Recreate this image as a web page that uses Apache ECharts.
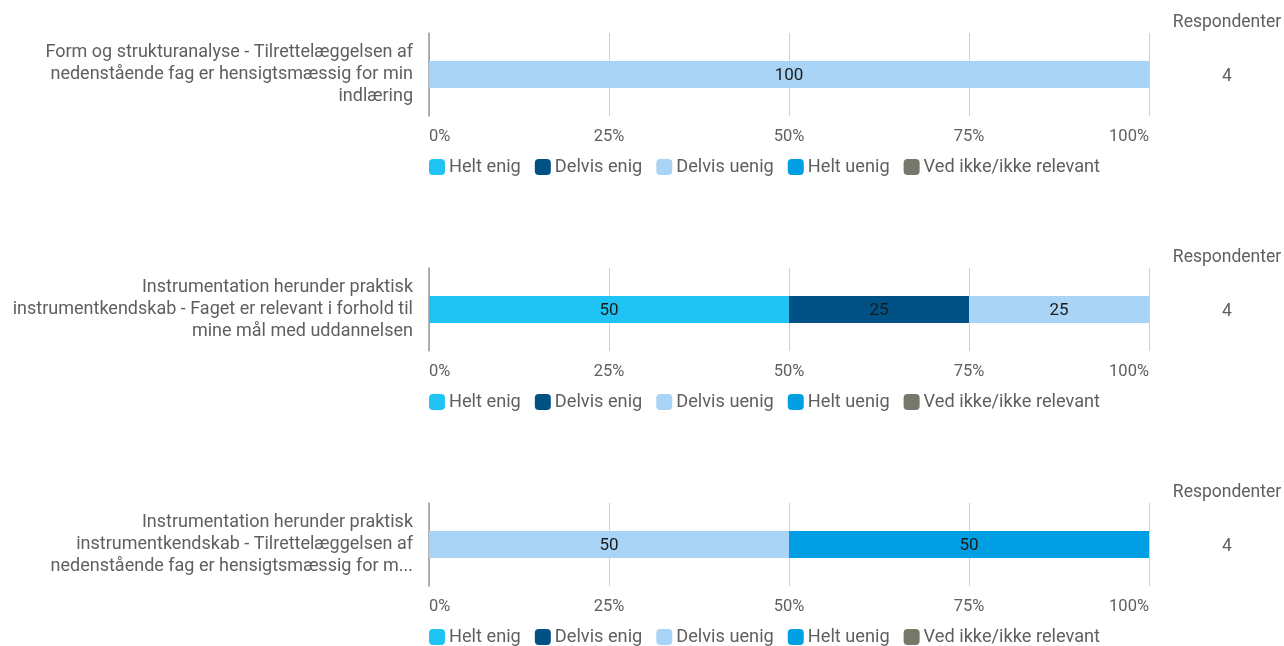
<!DOCTYPE html>
<html>
<head>
<meta charset="utf-8">
<script src="https://cdn.jsdelivr.net/npm/echarts@6/dist/echarts.min.js"></script>
<style>
  html, body { margin: 0; padding: 0; background: #fff; }
  #chart { width: 1284px; height: 646px; }
</style>
</head>
<body>
<div id="chart"></div>
<script>
  // spørgsmål (kategorier)
  const questions = [
    'Form og strukturanalyse - Tilrettelæggelsen af\nnedenstående fag er hensigtsmæssig for min\nindlæring',
    'Instrumentation herunder praktisk\ninstrumentkendskab - Faget er relevant i forhold til\nmine mål med uddannelsen',
    'Instrumentation herunder praktisk\ninstrumentkendskab - Tilrettelæggelsen af\nnedenstående fag er hensigtsmæssig for m...'
  ]
  const answers = ['Helt enig', 'Delvis enig', 'Delvis uenig', 'Helt uenig', 'Ved ikke/ikke relevant']
  const colors = ['#1fc4f4', '#005185', '#a9d4f5', '#009fe3', '#77776a']
  // procent pr. svar, en række pr. spørgsmål
  const helEnig = [0, 50, 0]
  const delvisEnig = [0, 25, 0]
  const delvisUenig = [100, 25, 50]
  const heltUenig = [0, 0, 50]
  const vedIkke = [0, 0, 0]
  const respondenter = [4, 4, 4]
  const xTicks = [0, 25, 50, 75, 100]

  const values = [helEnig, delvisEnig, delvisUenig, heltUenig, vedIkke]
  const chart = echarts.init(document.getElementById('chart'))

  const tops = [33, 268, 503]
  const grids = [], xAxes = [], yAxes = [], legends = [], series = [], graphics = []
  const textColor = '#5f5f5f'

  tops.forEach((top, i) => {
    grids.push({ left: 429, right: 135, top: top, height: 83 })
    xAxes.push({
      gridIndex: i,
      type: 'value',
      min: xTicks[0],
      max: xTicks[xTicks.length - 1],
      interval: 25,
      axisLine: { show: false },
      axisTick: { show: false },
      splitLine: { lineStyle: { color: '#d0d0d0', width: 1 } },
      axisLabel: {
        formatter: '{value}%',
        color: textColor,
        fontSize: 16.5,
        fontFamily: 'Roboto',
        margin: 12,
        alignMinLabel: 'left',
        alignMaxLabel: 'right'
      }
    })
    yAxes.push({
      gridIndex: i,
      type: 'category',
      data: [questions[i]],
      axisLine: { show: true, lineStyle: { color: '#9a9a9a', width: 1.5 } },
      axisTick: { show: false },
      axisLabel: {
        color: textColor,
        fontSize: 18,
        fontFamily: 'Roboto',
        lineHeight: 22,
        margin: 16,
        align: 'right'
      }
    })
    legends.push({
      data: answers,
      left: 429,
      top: top + 125,
      padding: 0,
      itemWidth: 16,
      itemHeight: 16,
      itemGap: 14,
      icon: 'roundRect',
      textStyle: { color: textColor, fontSize: 18.2, fontFamily: 'Roboto', padding: [0, 0, 0, -1] },
      selectedMode: false
    })
    answers.forEach((name, k) => {
      series.push({
        name: name,
        type: 'bar',
        stack: 'q' + i,
        xAxisIndex: i,
        yAxisIndex: i,
        barWidth: 27,
        itemStyle: { color: colors[k] },
        label: {
          show: true,
          position: 'inside',
          color: '#1a1a1a',
          fontSize: 17,
          fontFamily: 'Roboto',
          offset: [0, 1],
          formatter: p => (p.value > 0 ? p.value : '')
        },
        data: [values[k][i]]
      })
    })
    graphics.push({
      type: 'text',
      x: 1227,
      y: top - 10,
      style: { text: 'Respondenter', fill: textColor, font: '17.5px Roboto', align: 'center', verticalAlign: 'middle' }
    })
    graphics.push({
      type: 'text',
      x: 1227,
      y: top + 44,
      style: { text: String(respondenter[i]), fill: textColor, font: '17.5px Roboto', align: 'center', verticalAlign: 'middle' }
    })
  })

  chart.setOption({
    animation: false,
    color: colors,
    grid: grids,
    xAxis: xAxes,
    yAxis: yAxes,
    legend: legends,
    series: series,
    graphic: graphics
  })
</script>
</body>
</html>
